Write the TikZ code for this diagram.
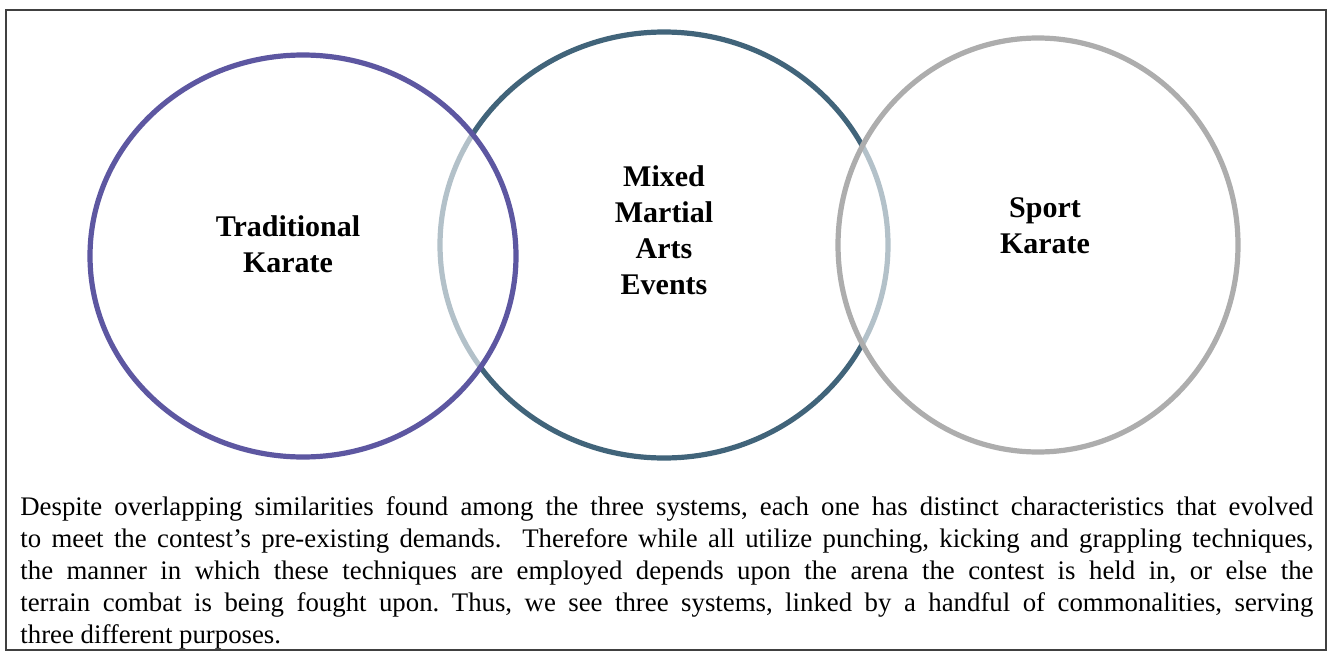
\documentclass[tikz,border=0pt]{standalone}
\usepackage{fontspec}
\setmainfont{Liberation Serif}
\definecolor{cpurple}{HTML}{5D57A1}
\definecolor{cteal}{HTML}{41647A}
\definecolor{cgrey}{HTML}{ADADAD}
\definecolor{cframe}{HTML}{404040}
\tikzset{
  ring/.style={line width=2.6pt},
  overring/.style={ring, fill=white, fill opacity=0.6},
  lbl/.style={font=\fontsize{15pt}{18pt}\selectfont\bfseries, align=center, text=black},
}
\begin{document}
\frenchspacing
\begin{tikzpicture}[x=0.5pt,y=-0.5pt]
\useasboundingbox (0,0) rectangle (1332,653);
\draw[cframe, line width=0.8pt] (6,10) rectangle (1326,650);
% middle first
\draw[ring, draw=cteal] (664,245) ellipse [x radius=112pt, y radius=106.5pt];
\draw[overring, draw=cpurple] (303,256) ellipse [x radius=106.5pt, y radius=100.5pt];
\draw[overring, draw=cgrey] (1038,245) ellipse [x radius=100pt, y radius=103.5pt];
\node[lbl] (trad) at (288,244) {Traditional\\Karate};
\node[lbl] (mma) at (664,230) {Mixed\\Martial\\Arts\\Events};
\node[lbl] (sport) at (1045,226) {Sport\\Karate};
\node[anchor=north west, inner sep=0pt, text width=646.5pt, align=justify,
  font=\fontsize{13.4pt}{16pt}\selectfont] (body) at (20,496)
  {Despite overlapping similarities found among the three systems, each one has distinct characteristics that evolved\linebreak
  to meet the contest’s pre-existing demands.\ \ Therefore while all utilize punching, kicking and grappling techniques,\linebreak
  the manner in which these techniques are employed depends upon the arena the contest is held in, or else the\linebreak
  terrain combat is being fought upon. Thus, we see three systems, linked by a handful of commonalities, serving\linebreak
  three different purposes.};
\end{tikzpicture}
\end{document}
